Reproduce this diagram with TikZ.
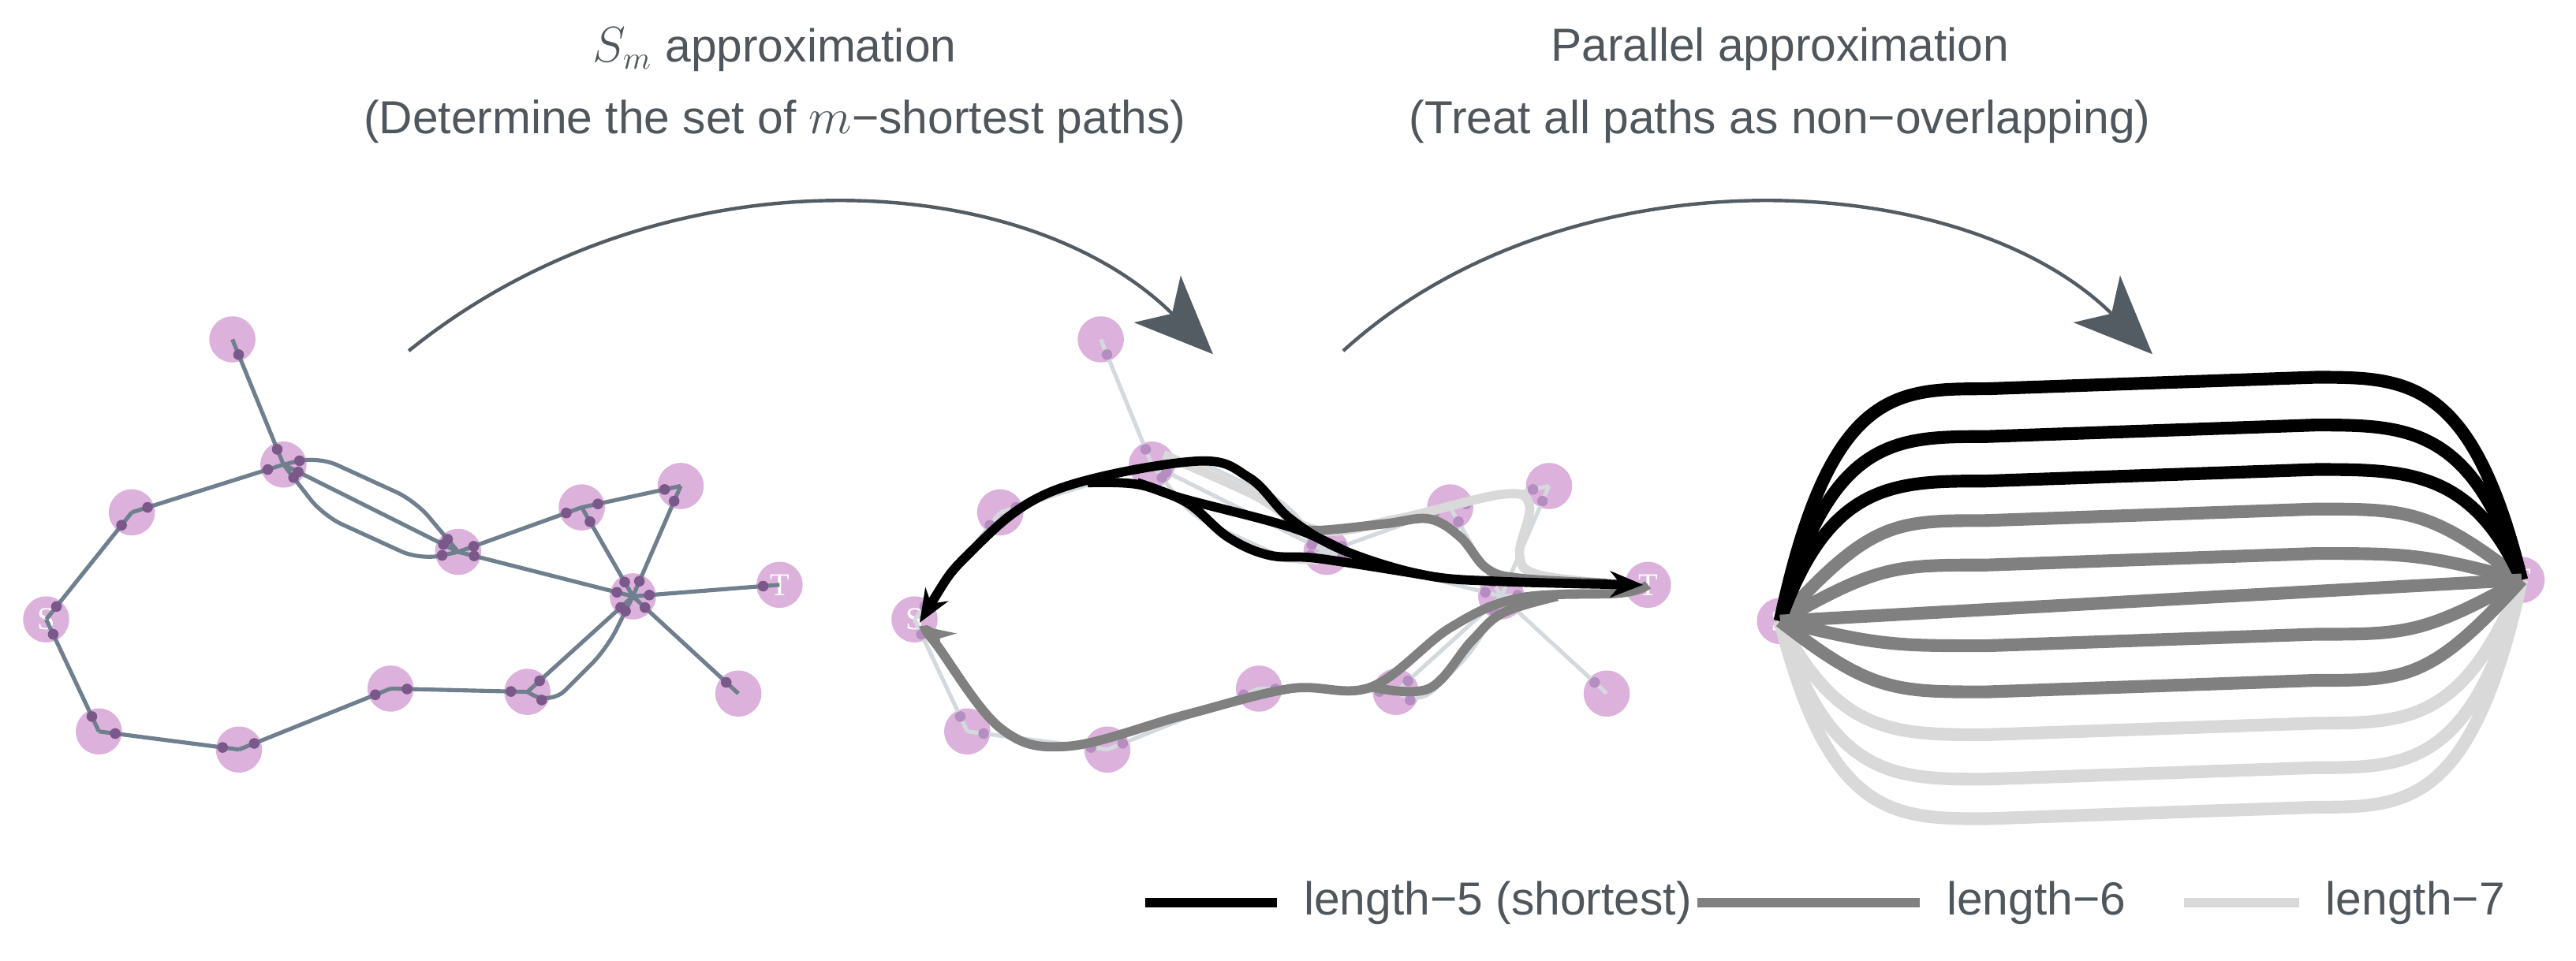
\documentclass[tikz,border=0pt]{standalone}
\usepackage{fontspec}
\setmainfont{Liberation Sans}
\newfontfamily\lblfont{Liberation Serif}
\usetikzlibrary{arrows.meta,calc}
\definecolor{pinkv}{HTML}{DCB2DC}
\definecolor{dotc}{HTML}{7A588A}
\definecolor{edgec}{HTML}{6F7F8E}
\definecolor{fadec}{HTML}{D3D9DD}
\definecolor{fdot}{HTML}{B58DC0}
\definecolor{arrc}{HTML}{545C63}
\definecolor{txtc}{HTML}{4F565C}
\definecolor{gmid}{HTML}{808080}
\definecolor{glight}{HTML}{D9D9D9}
\tikzset{
  vtx/.style={circle,fill=pinkv,minimum size=0.56cm,inner sep=0pt,text=white,font=\lblfont\fontsize{11}{11}\selectfont},
  ttl/.style={text=txtc,font=\fontsize{16}{19}\selectfont,align=center},
  bigarr/.style={arrc,line width=1.2pt,-{Stealth[length=0.95cm,width=0.8cm,inset=0.25cm]}},
  pblack/.style={black,line width=3.2pt},
  pgray/.style={gmid,line width=3.2pt},
  plight/.style={glight,line width=3.2pt},
  rblack/.style={black,line width=4.4pt},
  rgray/.style={gmid,line width=4.4pt},
  rlight/.style={glight,line width=4.4pt},
}
\newcommand{\myedge}[3]{%
  \draw[#3] (#1.center) -- (#2.center);}
\newcommand{\mydots}[3]{%
  \fill[#3] ($(#1.center)!0.2cm!(#2.center)$) circle[radius=0.065cm];
  \fill[#3] ($(#2.center)!0.2cm!(#1.center)$) circle[radius=0.065cm];}
\newcommand{\mygraph}[3]{%
  \node[vtx] (A) at (141,206) {};
  \node[vtx] (B) at (172,282) {};
  \node[vtx] (C) at (80,311) {};
  \node[vtx] (S) at (28,376) {S};
  \node[vtx] (D) at (60,444) {};
  \node[vtx] (E) at (145,455) {};
  \node[vtx] (F) at (237,418) {};
  \node[vtx] (G) at (320,420) {};
  \node[vtx] (I) at (278,335) {};
  \node[vtx] (J) at (353,308) {};
  \node[vtx] (K) at (413,295) {};
  \node[vtx] (H) at (384,362) {};
  \node[vtx] (T) at (473,355) {T};
  \node[vtx] (L) at (448,421) {};
  \foreach \a/\b in {A/B,B/C,C/S,S/D,D/E,E/F,F/G,G/H,B/I,I/J,I/H,J/K,J/H,K/H,H/T,H/L}{\myedge{\a}{\b}{#1}}
  \draw[#1,rounded corners=0.25cm] (B.center) -- (193,277) -- (252,304) -- (I.center);
  \draw[#1,rounded corners=0.25cm] (B.center) -- (196,313) -- (255,340) -- (I.center);
  \draw[#1,rounded corners=0.25cm] (G.center) -- (334,428) -- (368,394) -- (H.center);
  \foreach \a/\b in {A/B,B/C,C/S,S/D,D/E,E/F,F/G,G/H,B/I,I/J,I/H,J/K,J/H,K/H,H/T,H/L}{\mydots{\a}{\b}{#2}}
  \fill[#2] ($(B.center)!0.2cm!(193,277)$) circle[radius=0.065cm];
  \fill[#2] ($(B.center)!0.2cm!(196,313)$) circle[radius=0.065cm];
  \fill[#2] ($(I.center)!0.2cm!(252,304)$) circle[radius=0.065cm];
  \fill[#2] ($(I.center)!0.2cm!(255,340)$) circle[radius=0.065cm];
  \fill[#2] ($(G.center)!0.2cm!(334,428)$) circle[radius=0.065cm];
  \fill[#2] ($(H.center)!0.2cm!(368,394)$) circle[radius=0.065cm];
}
\begin{document}
\begin{tikzpicture}[x=0.02cm,y=-0.02cm]
\useasboundingbox (0,0) rectangle (1563,583);
% titles
\node[ttl] (t1) at (470,30) {$S_m$ approximation};
\node[ttl] (t1b) at (470,74) {(Determine the set of $m$\textminus shortest paths)};
\node[ttl] (t2) at (1080,30) {Parallel approximation};
\node[ttl] (t2b) at (1080,74) {(Treat all paths as non\textminus overlapping)};
\coordinate (a1s) at (248,213); \coordinate (a1e) at (736,215);
\coordinate (a2s) at (815,213); \coordinate (a2e) at (1306,215);
\draw[bigarr] (a1s) .. controls (400,90) and (620,100) .. (a1e);
\draw[bigarr] (a2s) .. controls (950,90) and (1190,100) .. (a2e);
% left graph
\begin{scope}
\mygraph{edgec,line width=1.4pt}{dotc}{}
\end{scope}
% middle graph
\begin{scope}[xshift=10.54cm,name prefix=m]
\mygraph{fadec,line width=1.4pt}{fdot}{}
\end{scope}
% middle paths
\draw[plight] plot[smooth,tension=0.6] coordinates {(706,276) (760,300) (800,322) (848,315) (912,300) (928,307) (922,337) (934,349) (985,355)};
\draw[plight] plot[smooth] coordinates {(745,326) (770,337) (800,340)};
\draw[pgray,-{Stealth[length=0.4cm,width=0.32cm]}] plot[smooth,tension=0.6] coordinates {(mT.center) (983,360) (922,363) (880,381) (832,417) (783,418) (719,434) (648,453) (607,442) (568,391) (559,380)};
\draw[pgray] plot[smooth,tension=0.6] coordinates {(832,417) (867,418) (893,389) (912,372) (945,362)};
\draw[pgray] plot[smooth,tension=0.6] coordinates {(783,319) (799,322) (840,318) (867,315) (886,326) (902,345) (922,351) (975,354)};
\draw[pblack] plot[smooth,tension=0.6] coordinates {(660,293) (690,294) (719,303) (783,320) (815,334)};
\draw[pblack] plot[smooth,tension=0.6] coordinates {(690,293) (720,305) (745,326) (770,337) (800,339) (864,349)};
\draw[pblack,{Stealth[length=0.4cm,width=0.32cm]}-{Stealth[length=0.4cm,width=0.32cm]}] plot[smooth,tension=0.6] coordinates {(558,378) (590,334) (639,298) (725,280) (758,290) (783,315) (815,334) (864,349) (912,353) (997,355)};
% right
\node[vtx] (rS) at (1080,377) {S};
\node[vtx] (rT) at (1530,352) {T};
\foreach \y/\s/\c in {497/rlight/30, 473/rlight/30, 446/rlight/35, 420/rgray/55, 392/rgray/60, 343/rgray/60, 316/rgray/55, 292/rblack/30, 265/rblack/30, 236/rblack/30}{
  \draw[\s] (rS.center) .. controls (1080+\c,\y) and (1150,\y) .. (1205,\y) -- (1405,\y-7) .. controls (1460,\y-7) and (1530-\c,\y-7) .. (rT.center);
}
\draw[rgray] (rS.center) -- (rT.center);
% legend
\coordinate (l1a) at (695,548); \coordinate (l1b) at (775,548);
\coordinate (l2a) at (1030,548); \coordinate (l2b) at (1165,548);
\coordinate (l3a) at (1325,548); \coordinate (l3b) at (1395,548);
\draw[black,line width=3.4pt] (l1a) -- (l1b);
\draw[gmid,line width=3.4pt] (l2a) -- (l2b);
\draw[glight,line width=3.4pt] (l3a) -- (l3b);
\node[ttl,anchor=west] (lt1) at (785,548) {length\textminus 5 (shortest)};
\node[ttl,anchor=west] (lt2) at (1175,548) {length\textminus 6};
\node[ttl,anchor=west] (lt3) at (1405,548) {length\textminus 7};
\end{tikzpicture}
\end{document}
